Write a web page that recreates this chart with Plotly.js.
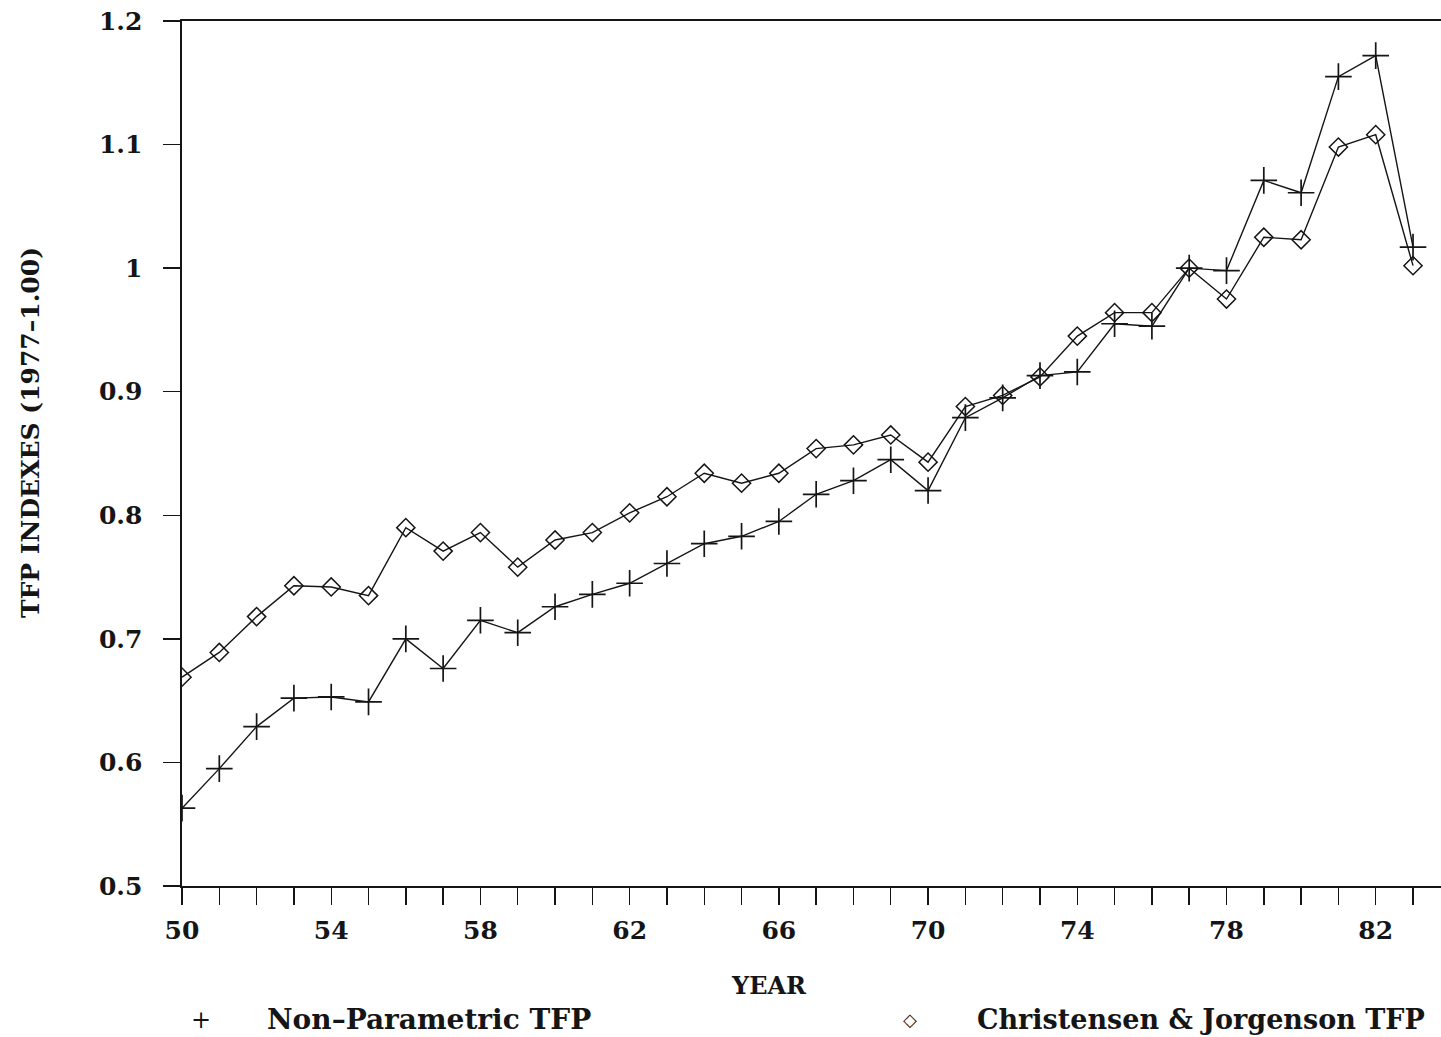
<!DOCTYPE html>
<html>
<head>
<meta charset="utf-8">
<script src="https://cdn.plot.ly/plotly-3.0.1.min.js"></script>
<style>html,body{margin:0;padding:0;background:#fff;}</style>
</head>
<body>
<div id="chart" style="width:1441px;height:1037px;"></div>
<script>
const years = [50,51,52,53,54,55,56,57,58,59,60,61,62,63,64,65,66,67,68,69,70,71,72,73,74,75,76,77,78,79,80,81,82,83];
const nonParametric = [0.563,0.595,0.629,0.652,0.653,0.649,0.700,0.676,0.715,0.705,0.726,0.736,0.745,0.761,0.777,0.783,0.795,0.817,0.828,0.845,0.820,0.879,0.895,0.913,0.916,0.955,0.953,1.000,0.998,1.071,1.061,1.155,1.172,1.017];
const christensenJorgenson = [0.669,0.689,0.718,0.743,0.742,0.735,0.790,0.771,0.786,0.758,0.780,0.786,0.802,0.815,0.834,0.826,0.834,0.854,0.857,0.865,0.843,0.888,0.897,0.912,0.945,0.964,0.964,1.000,0.975,1.025,1.023,1.098,1.108,1.002];
const xTickVals = [50,54,58,62,66,70,74,78,82];
const xTickText = ["50","54","58","62","66","70","74","78","82"];
const yTickVals = [0.5,0.6,0.7,0.8,0.9,1.0,1.1,1.2];
const yTickText = ["0.5","0.6","0.7","0.8","0.9","1","1.1","1.2"];
const seriesNames = ["Non–Parametric TFP","Christensen & Jorgenson TFP"];
const xTitle = "YEAR";
const yTitle = "TFP INDEXES (1977–1.00)";

const FONT = "DejaVu Serif, Liberation Serif, serif";
const INK = "#151515";
function f(size, bold) { return {family: FONT, size: size, color: INK, weight: bold ? 700 : 400}; }

const traces = [
  {x: years, y: nonParametric, name: seriesNames[0], mode: "lines+markers",
   line: {color: INK, width: 1.4},
   marker: {symbol: "cross-thin-open", size: 19, line: {color: INK, width: 1.7}}},
  {x: years, y: christensenJorgenson, name: seriesNames[1], mode: "lines+markers",
   line: {color: INK, width: 1.4},
   marker: {symbol: "diamond-open", size: 14, color: INK, line: {color: INK, width: 1.5}}}
];

const PL = 182, PW = 1259, PT = 21, PH = 865;
function px(xp) { return (xp - PL) / PW; }
function py(yp) { return (PT + PH - yp) / PH; }

const layout = {
  width: 1441, height: 1037,
  margin: {l: PL, r: 0, t: PT, b: 1037 - PT - PH},
  paper_bgcolor: "#fff", plot_bgcolor: "#fff",
  showlegend: false,
  font: f(24, true),
  xaxis: {
    range: [50, 83.75], tickmode: "array", tickvals: xTickVals, ticktext: xTickText,
    ticks: "outside", ticklen: 17, tickwidth: 1.4, tickcolor: INK,
    minor: {dtick: 1, tick0: 50, ticks: "outside", ticklen: 17, tickwidth: 1.4, tickcolor: INK},
    showline: true, linecolor: INK, linewidth: 1.6, mirror: true,
    showgrid: false, zeroline: false, ticklabelstandoff: 4,
    tickfont: f(25, true)
  },
  yaxis: {
    range: [0.5, 1.2], tickmode: "array", tickvals: yTickVals, ticktext: yTickText,
    ticks: "outside", ticklen: 17, tickwidth: 1.4, tickcolor: INK,
    showline: true, linecolor: INK, linewidth: 1.6,
    showgrid: false, zeroline: false, ticklabelstandoff: 16,
    tickfont: f(25, true)
  },
  annotations: [
    {xref: "paper", yref: "paper", x: px(769), y: py(985), text: xTitle, showarrow: false, xanchor: "center", yanchor: "middle", font: f(24, true)},
    {xref: "paper", yref: "paper", x: px(30), y: py(433), text: yTitle, textangle: -90, showarrow: false, xanchor: "center", yanchor: "middle", font: f(25, true)},
    {xref: "paper", yref: "paper", x: px(201), y: py(1020), text: "+", showarrow: false, xanchor: "center", yanchor: "middle", font: f(24, false)},
    {xref: "paper", yref: "paper", x: px(265), y: py(1019), text: seriesNames[0], showarrow: false, xanchor: "left", yanchor: "middle", font: f(28, true)},
    {xref: "paper", yref: "paper", x: px(910), y: py(1019), text: "◇", showarrow: false, xanchor: "center", yanchor: "middle", font: f(18, false)},
    {xref: "paper", yref: "paper", x: px(975), y: py(1019), text: seriesNames[1], showarrow: false, xanchor: "left", yanchor: "middle", font: f(27, true)}
  ]
};

Plotly.newPlot("chart", traces, layout, {displayModeBar: false, staticPlot: true});
</script>
</body>
</html>
